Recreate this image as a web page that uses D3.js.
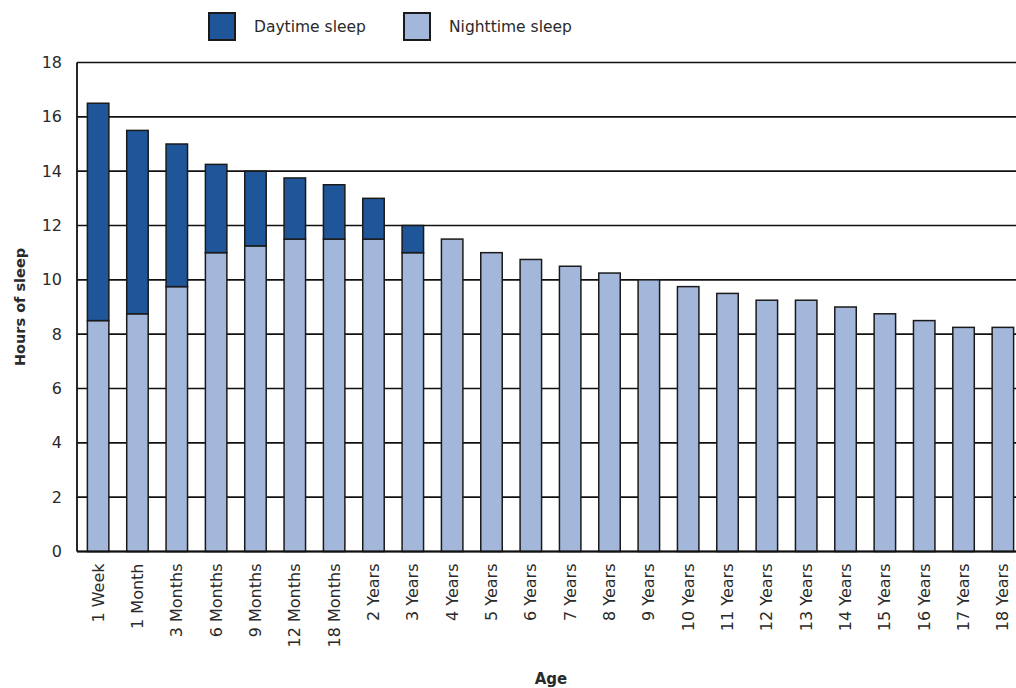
<!DOCTYPE html>
<html>
<head>
<meta charset="utf-8">
<script src="https://cdn.jsdelivr.net/npm/d3@7"></script>
<style>
  html, body { margin: 0; padding: 0; background: #fff; }
  svg { display: block; }
  text { font-family: "DejaVu Sans", "Noto Sans", sans-serif; fill: #2a2a2a; }
</style>
</head>
<body>
<svg id="chart" width="1016" height="688"></svg>
<script>
const categories = ["1 Week","1 Month","3 Months","6 Months","9 Months","12 Months","18 Months","2 Years","3 Years","4 Years","5 Years","6 Years","7 Years","8 Years","9 Years","10 Years","11 Years","12 Years","13 Years","14 Years","15 Years","16 Years","17 Years","18 Years"];
const nighttime = [8.5, 8.75, 9.75, 11, 11.25, 11.5, 11.5, 11.5, 11, 11.5, 11, 10.75, 10.5, 10.25, 10, 9.75, 9.5, 9.25, 9.25, 9, 8.75, 8.5, 8.25, 8.25];
const daytime   = [8, 6.75, 5.25, 3.25, 2.75, 2.25, 2, 1.5, 1, 0, 0, 0, 0, 0, 0, 0, 0, 0, 0, 0, 0, 0, 0, 0];
const yTicks = [0, 2, 4, 6, 8, 10, 12, 14, 16, 18];
const seriesNames = ["Daytime sleep", "Nighttime sleep"];
const seriesColors = ["#1f5599", "#a3b7da"];

const svg = d3.select("#chart");
const W = 1016;
const mLeft = 77, mBottom = 551.5, mTop = 62.5;
const FONT = "'DejaVu Sans', sans-serif";

const x = d3.scaleBand().domain(categories).range([mLeft, 1024]).paddingInner(0.454).paddingOuter(0.264);
const y = d3.scaleLinear().domain([0, 18]).range([mBottom, mTop]);

// gridlines
svg.append("g").selectAll("line").data(yTicks).join("line")
  .attr("x1", mLeft).attr("x2", W)
  .attr("y1", d => y(d)).attr("y2", d => y(d))
  .attr("stroke", "#111").attr("stroke-width", 1.6);

// left axis line
svg.append("line").attr("x1", mLeft).attr("x2", mLeft).attr("y1", y(18)).attr("y2", y(0))
  .attr("stroke", "#111").attr("stroke-width", 1.8);

// y tick labels
const yAxis = d3.axisLeft(y).tickValues(yTicks).tickSize(0).tickPadding(15);
const gy = svg.append("g").attr("transform", `translate(${mLeft},0)`).call(yAxis);
gy.select(".domain").remove();
gy.selectAll("text").attr("font-size", 16).attr("font-family", FONT).attr("fill", "#2a2a2a");

const data = categories.map((c, i) => ({c, n: nighttime[i], d: daytime[i]}));

// nighttime bars
svg.append("g").selectAll("rect").data(data).join("rect")
  .attr("x", d => x(d.c)).attr("width", x.bandwidth())
  .attr("y", d => y(d.n)).attr("height", d => y(0) - y(d.n))
  .attr("fill", seriesColors[1]).attr("stroke", "#1a1a1a").attr("stroke-width", 1.5);

// daytime bars
svg.append("g").selectAll("rect").data(data.filter(d => d.d > 0)).join("rect")
  .attr("x", d => x(d.c)).attr("width", x.bandwidth())
  .attr("y", d => y(d.n + d.d)).attr("height", d => y(d.n) - y(d.n + d.d))
  .attr("fill", seriesColors[0]).attr("stroke", "#1a1a1a").attr("stroke-width", 1.5);

// baseline
svg.append("line").attr("x1", mLeft).attr("x2", W).attr("y1", y(0)).attr("y2", y(0))
  .attr("stroke", "#111").attr("stroke-width", 2);

// x tick labels
const xAxis = d3.axisBottom(x).tickSize(0).tickPadding(0);
const gx = svg.append("g").attr("transform", `translate(0,${mBottom})`).call(xAxis);
gx.select(".domain").remove();
gx.selectAll("text")
  .attr("font-size", 16).attr("font-family", FONT).attr("fill", "#2a2a2a")
  .attr("text-anchor", "end")
  .attr("y", null)
  .attr("transform", "translate(0,12) rotate(-90)")
  .attr("dx", 0).attr("dy", "0.35em");

// axis titles
svg.append("text").attr("transform", "translate(25,307) rotate(-90)")
  .attr("text-anchor", "middle").attr("font-size", 14.5).attr("font-weight", "bold").text("Hours of sleep");
svg.append("text").attr("x", 551).attr("y", 684)
  .attr("text-anchor", "middle").attr("font-size", 15).attr("font-weight", "bold").text("Age");

// legend
const legendX = [209, 404];
const lg = svg.append("g").selectAll("g").data(seriesNames).join("g")
  .attr("transform", (d, i) => `translate(${legendX[i]},13)`);
lg.append("rect").attr("width", 26).attr("height", 27)
  .attr("fill", (d, i) => seriesColors[i]).attr("stroke", "#1a1a1a").attr("stroke-width", 2);
lg.append("text").attr("x", 45).attr("y", 14).attr("dy", "0.35em")
  .attr("font-size", 15.5).attr("fill", "#2a2a2a").text(d => d);
</script>
</body>
</html>
